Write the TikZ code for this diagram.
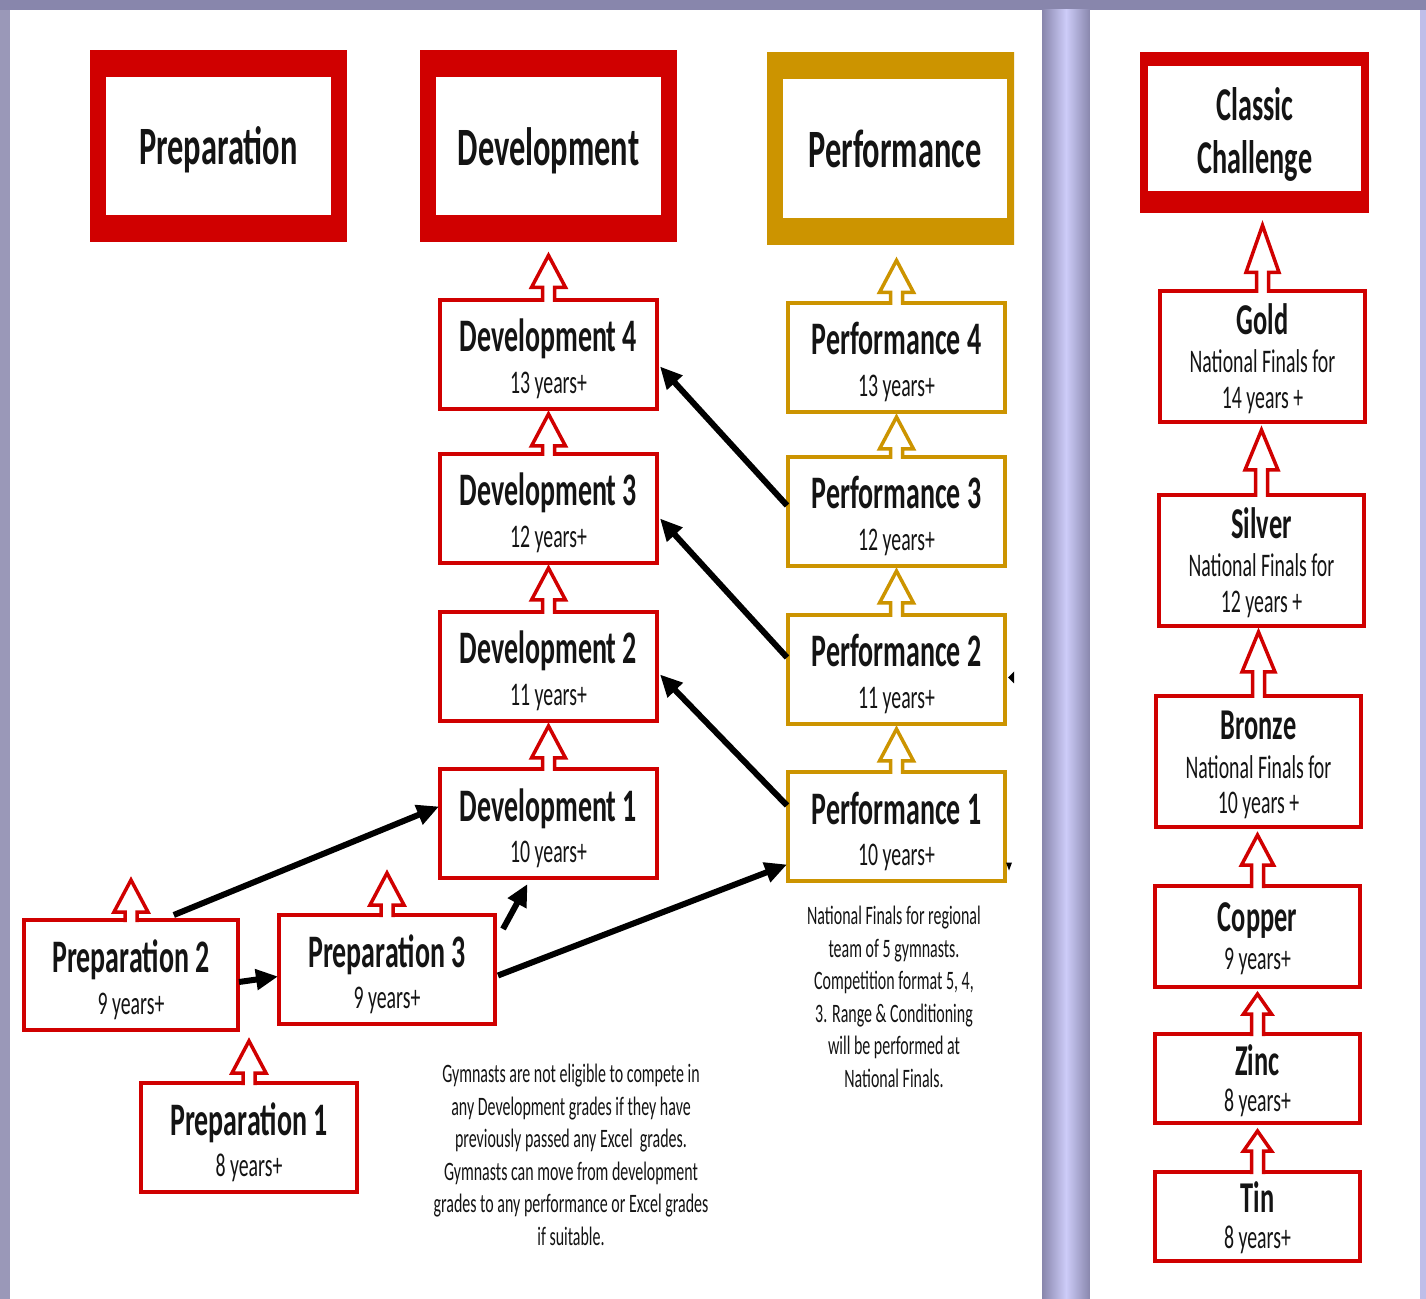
\documentclass[tikz,border=0pt]{standalone}
\usepackage{fontspec}
\setmainfont{Carlito}[FakeStretch=0.6]
\usetikzlibrary{arrows.meta,calc}
\definecolor{cred}{RGB}{208,0,0}
\definecolor{cgold}{RGB}{204,148,0}
\definecolor{bgdark}{RGB}{136,134,172}
\definecolor{bglight}{RGB}{205,204,248}
\definecolor{txt}{RGB}{20,20,20}
\tikzset{
  sbox/.style={line width=2pt,fill=white,inner sep=0pt,outer sep=0pt,rectangle},
  ttl/.style={font=\bfseries\fontsize{23.3}{28}\selectfont,text=txt,anchor=base,inner sep=0pt},
  rttl/.style={font=\bfseries\fontsize{22}{26}\selectfont,text=txt,anchor=base,inner sep=0pt},
  subt/.style={font=\fontsize{16.5}{20}\selectfont,text=txt,anchor=base,inner sep=0pt},
  hdr/.style={font=\bfseries\fontsize{27}{32}\selectfont,text=txt,anchor=base,inner sep=0pt},
  notetxt/.style={font=\fontsize{13.3}{16.25}\selectfont,text=txt,align=center,anchor=base,inner sep=0pt},
  blk/.style={line width=3pt,black,-{Triangle[length=11pt,width=10pt]}},
  hollow/.style={draw=cred,line width=1.75pt,line join=miter},
}
% hollow up-arrow: #1 base anchor, #2 tip point, #3 head half width, #4 head length, #5 colour
\newcommand\hollowup[5]{%
  \fill[white] let \p1=(#1), \p2=(#2) in
    (\x1,\y2) -- (\x1+#3,\y2-#4) -- (\x1+3pt,\y2-#4) -- (\x1+3pt,\y1-1.3pt)
    -- (\x1-3pt,\y1-1.3pt) -- (\x1-3pt,\y2-#4) -- (\x1-#3,\y2-#4) -- cycle;
  \draw[hollow,draw=#5] let \p1=(#1), \p2=(#2) in
    (\x1+3pt,\y1-1pt) -- (\x1+3pt,\y2-#4) -- (\x1+#3,\y2-#4) -- (\x1,\y2)
    -- (\x1-#3,\y2-#4) -- (\x1-3pt,\y2-#4) -- (\x1-3pt,\y1-1pt);
}
% small box: name, colour, cx, cy, w, h, title, sub
\newcommand\gbox[8]{%
  \node[sbox,draw=#2,minimum width=#5,minimum height=#6] (#1) at (#3,#4) {};
  \node[ttl] (#1-t) at ($(#1)+(0,-2.5)$) {#7};
  \node[subt] (#1-s) at ($(#1)+(0,39)$) {#8};
}
\begin{document}
\begin{tikzpicture}[x=0.5pt,y=-0.5pt]
\useasboundingbox (0,0) rectangle (1426,1299);
% background
\fill[bgdark!85!white] (0,0) rectangle (1426,1299);
\fill[bgdark] (0,0) rectangle (1426,10);
\shade[left color=bgdark,right color=bgdark,middle color=bglight] (1042,10) rectangle (1090,1299);
\fill[bglight!80!bgdark] (1420,10) rectangle (1426,1299);
\fill[white] (10,10) rectangle (1042,1299);
\fill[white] (1090,10) rectangle (1420,1299);

% header boxes
\node[fill=cred,minimum width=128.5pt,minimum height=96pt,inner sep=0pt] (hprep) at (218.5,146) {};
\node[fill=white,minimum width=112.5pt,minimum height=69pt,inner sep=0pt] (hprep-in) at (218.5,146) {};
\node[hdr] (hprep-t) at ($(hprep)+(0,19)$) {Preparation};

\node[fill=cred,minimum width=128.5pt,minimum height=96pt,inner sep=0pt] (hdev) at (548.5,146) {};
\node[fill=white,minimum width=112.5pt,minimum height=69pt,inner sep=0pt] (hdev-in) at (548.5,146) {};
\node[hdr] (hdev-t) at ($(hdev)+(0,20)$) {Development};

\begin{scope}
\clip (700,0) rectangle (1014,300);
\node[fill=cgold,minimum width=128pt,minimum height=96.5pt,inner sep=0pt] (hperf) at (895,148.5) {};
\node[fill=white,minimum width=112pt,minimum height=69.5pt,inner sep=0pt] (hperf-in) at (895,148.5) {};
\end{scope}
\node[hdr] (hperf-t) at ($(hperf)+(0,19.5)$) {Performance};

\node[fill=cred,minimum width=114.5pt,minimum height=80.5pt,inner sep=0pt] (hcc) at (1254.5,132.5) {};
\node[fill=white,minimum width=106.5pt,minimum height=62.5pt,inner sep=0pt] (hcc-in) at (1254.5,128.5) {};
\node[font=\bfseries\fontsize{23.5}{28}\selectfont,text=txt,anchor=base,inner sep=0pt] (hcc-t1) at (1255,121) {Classic};
\node[font=\bfseries\fontsize{23.5}{28}\selectfont,text=txt,anchor=base,inner sep=0pt] (hcc-t2) at (1255,174) {Challenge};

% development column
\gbox{dev4}{cred}{548.5}{354.5}{108.5pt}{54.5pt}{Development 4}{13 years+}
\gbox{dev3}{cred}{548.5}{508.5}{108.5pt}{54.5pt}{Development 3}{12 years+}
\gbox{dev2}{cred}{548.5}{666.5}{108.5pt}{54.5pt}{Development 2}{11 years+}
\gbox{dev1}{cred}{548.5}{823.5}{108.5pt}{54.5pt}{Development 1}{10 years+}
% performance column
\gbox{perf4}{cgold}{896.5}{357.5}{108.5pt}{54.5pt}{Performance 4}{13 years+}
\gbox{perf3}{cgold}{896.5}{511.5}{108.5pt}{54.5pt}{Performance 3}{12 years+}
\gbox{perf2}{cgold}{896.5}{669.5}{108.5pt}{54.5pt}{Performance 2}{11 years+}
\gbox{perf1}{cgold}{896.5}{826.5}{108.5pt}{54.5pt}{Performance 1}{10 years+}
% preparation
\gbox{prep2}{cred}{131}{975}{107pt}{55pt}{Preparation 2}{9 years+}
\gbox{prep3}{cred}{387}{969.5}{108pt}{54.5pt}{Preparation 3}{9 years+}
\gbox{prep1}{cred}{249}{1137.5}{108pt}{54.5pt}{Preparation 1}{8 years+}

% classic challenge column
\node[sbox,draw=cred,minimum width=102.5pt,minimum height=65.5pt] (gold) at (1262.5,356.5) {};
\node[rttl] (gold-t) at ($(gold)+(0,-21.5)$) {Gold};
\node[subt] (gold-s1) at ($(gold)+(0,16.5)$) {National Finals for};
\node[subt] (gold-s2) at ($(gold)+(0,52)$) {14 years +};
\node[sbox,draw=cred,minimum width=102.5pt,minimum height=65.5pt] (silver) at (1261.5,560.5) {};
\node[rttl] (silver-t) at ($(silver)+(0,-21.5)$) {Silver};
\node[subt] (silver-s1) at ($(silver)+(0,16.5)$) {National Finals for};
\node[subt] (silver-s2) at ($(silver)+(0,52)$) {12 years +};
\node[sbox,draw=cred,minimum width=102.5pt,minimum height=65.5pt] (bronze) at (1258.5,761.5) {};
\node[rttl] (bronze-t) at ($(bronze)+(0,-21.5)$) {Bronze};
\node[subt] (bronze-s1) at ($(bronze)+(0,16.5)$) {National Finals for};
\node[subt] (bronze-s2) at ($(bronze)+(0,52)$) {10 years +};
\node[sbox,draw=cred,minimum width=102.5pt,minimum height=50.5pt] (copper) at (1257.5,936.5) {};
\node[rttl] (copper-t) at ($(copper)+(0,-5.5)$) {Copper};
\node[subt] (copper-s) at ($(copper)+(0,32.5)$) {9 years+};
\node[sbox,draw=cred,minimum width=102.5pt,minimum height=44.5pt] (zinc) at (1257.5,1078.5) {};
\node[rttl] (zinc-t) at ($(zinc)+(0,-3.5)$) {Zinc};
\node[subt] (zinc-s) at ($(zinc)+(0,32.5)$) {8 years+};
\node[sbox,draw=cred,minimum width=102.5pt,minimum height=44.5pt] (tin) at (1257.5,1216.5) {};
\node[rttl] (tin-t) at ($(tin)+(0,-4.5)$) {Tin};
\node[subt] (tin-s) at ($(tin)+(0,31.5)$) {8 years+};

% hollow arrows
\coordinate (p2tip) at ($(prep2.north)+(0,-40)$);
\coordinate (p3tip) at ($(prep3.north)+(0,-42)$);
\coordinate (p1tip) at ($(prep1.north)+(0,-42)$);
\hollowup{prep2.north}{p2tip}{8.5pt}{16pt}{cred}
\hollowup{prep3.north}{p3tip}{8.5pt}{16pt}{cred}
\hollowup{prep1.north}{p1tip}{8.5pt}{16pt}{cred}
\hollowup{dev1.north}{$(dev2.south)+(0,5)$}{8.5pt}{16pt}{cred}
\hollowup{dev2.north}{$(dev3.south)+(0,5)$}{8.5pt}{16pt}{cred}
\hollowup{dev3.north}{$(dev4.south)+(0,5)$}{8.5pt}{16pt}{cred}
\hollowup{dev4.north}{$(hdev.south)+(0,13)$}{8.5pt}{16pt}{cred}
\hollowup{perf1.north}{$(perf2.south)+(0,5)$}{8.5pt}{16pt}{cgold}
\hollowup{perf2.north}{$(perf3.south)+(0,5)$}{8.5pt}{16pt}{cgold}
\hollowup{perf3.north}{$(perf4.south)+(0,5)$}{8.5pt}{16pt}{cgold}
\hollowup{perf4.north}{$(hperf.south)+(0,15)$}{8.5pt}{16pt}{cgold}
\hollowup{gold.north}{$(hcc.south)+(0,12)$}{8.25pt}{23.5pt}{cred}
\hollowup{silver.north}{$(gold.south)+(0,8)$}{8.25pt}{20pt}{cred}
\hollowup{bronze.north}{$(silver.south)+(0,6)$}{8.25pt}{20pt}{cred}
\hollowup{copper.north}{$(bronze.south)+(0,8)$}{8pt}{15pt}{cred}
\hollowup{zinc.north}{$(copper.south)+(0,7)$}{7pt}{10pt}{cred}
\hollowup{tin.north}{$(zinc.south)+(0,8)$}{7pt}{10pt}{cred}

% black arrows
\draw[blk] ($(prep2.north west)!0.7!(prep2.north east)+(0,-5)$) -- ($(dev1.west)+(-1,-17)$);
\draw[blk] ($(prep2.east)+(1,7)$) -- ($(prep3.west)+(-1,7)$);
\draw[blk] ($(prep3.north east)+(8,14)$) -- ($(dev1.south)+(-21,6)$);
\draw[blk] ($(prep3.east)+(3,6)$) -- ($(perf1.west)+(-1,38)$);
\draw[blk] ($(perf1.west)+(-1,-21)$) -- ($(dev2.east)+(3,8)$);
\draw[blk] ($(perf2.west)+(-1,-12)$) -- ($(dev3.east)+(3,10)$);
\draw[blk] ($(perf3.west)+(-1,-6)$) -- ($(dev4.east)+(3,12)$);
% cut-off tips at the right edge
\fill ($(perf2.east)+(3,8)$) -- ++(6,-6) -- ++(0,12) -- cycle;
\fill ($(perf1.east)+(4,44)$) -- ++(-3,-8) -- ++(6,0) -- cycle;

% notes (anchor base = baseline of last line)
\node[notetxt] (note1) at (571,1245) {Gymnasts are not eligible to compete in\\any Development grades if they have\\previously passed any Excel\ \ grades.\\Gymnasts can move from development\\grades to any performance or Excel grades\\if suitable.};
\node[notetxt] (note2) at (894,1087) {National Finals for regional\\team of 5 gymnasts.\\Competition format 5, 4,\\3. Range \& Conditioning\\will be performed at\\National Finals.};
\end{tikzpicture}
\end{document}
